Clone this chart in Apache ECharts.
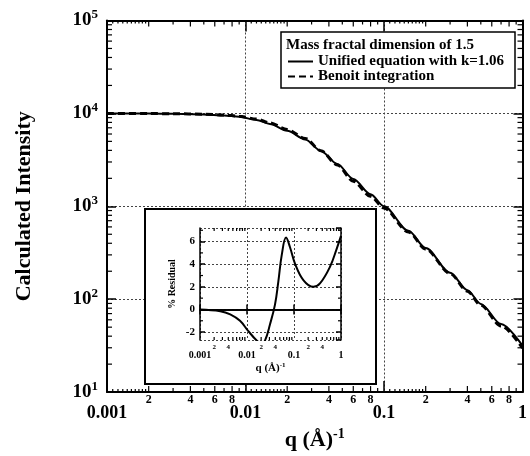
<!DOCTYPE html>
<html>
<head>
<meta charset="utf-8">
<script src="https://cdn.jsdelivr.net/npm/echarts@6/dist/echarts.min.js"></script>
<style>
html, body { margin: 0; padding: 0; background: #fff; }
#main { width: 530px; height: 456px; }
</style>
</head>
<body>
<div id="main"></div>
<script>
// main plot: q (1/A) vs calculated intensity
var qMain = [0.001, 0.002, 0.003, 0.005, 0.007, 0.009, 0.012, 0.015, 0.02, 0.027, 0.035, 0.046, 0.06, 0.08, 0.1, 0.15, 0.2, 0.3, 0.4, 0.5, 0.7, 1.0];
var unified = [10000, 9950, 9900, 9750, 9500, 9200, 8500, 7700, 6500, 5250, 3950, 2850, 1970, 1350, 1000, 545, 355, 193, 125, 89, 54, 31.6];
var benoit = [10000, 9960, 9920, 9800, 9600, 9340, 8690, 7900, 6700, 5370, 3970, 2790, 1860, 1280, 960, 530, 347, 189, 122, 86, 51.6, 29.7];

// inset: % residual
var qResid = [0.001, 0.0027, 0.0044, 0.0071, 0.0106, 0.0161, 0.02, 0.0241, 0.0309, 0.0394, 0.0464, 0.0548, 0.0677, 0.0822, 0.105, 0.158, 0.258, 0.357, 0.583, 0.809, 1.0];
var residual = [0, -0.15, -0.43, -1.0, -1.9, -2.75, -3.0, -2.75, -1.3, 0.43, 2.46, 4.8, 6.35, 5.5, 4.06, 2.6, 2.0, 2.3, 3.77, 5.36, 6.5];

// tick labels
var xMajorLabels = ['0.001', '0.01', '0.1', '1'];
var xMinorLabels = [2, 4, 6, 8];
var insetMinorLabels = [2, 4];
var mantissas = [2, 3, 4, 5, 6, 7, 8, 9];
var fineMantissas = [1.1, 1.2, 1.3, 1.4, 1.5, 1.6, 1.7, 1.8, 1.9];
var residMinor = [-1, 1, 3, 5, 7];

var FONT = '"Liberation Serif", "Times New Roman", serif';

function logTicks(decades, mants) {
  var out = [];
  decades.forEach(function (d) {
    mants.forEach(function (m) { out.push({ v: m * Math.pow(10, d), m: m }); });
  });
  return out;
}
var mainXTicks = logTicks([-3, -2, -1], fineMantissas.concat(mantissas));
var mainYTicks = logTicks([1, 2, 3, 4], mantissas);
var insetXTicks = logTicks([-3, -2, -1], mantissas);
var insetYTicks = residMinor.map(function (v) { return { v: v, m: v }; });

function majorLabel(v) {
  return xMajorLabels[Math.round(Math.log10(v)) + 3];
}

// minor ticks on x (bottom + top), drawn through the axis scale
function xTickSeries(ticks, axisIdx, yRef, lenOf, labels, fontSize, dy, z) {
  return {
    type: 'custom', xAxisIndex: axisIdx, yAxisIndex: axisIdx, silent: true, clip: false, z: z,
    data: ticks.map(function (t) { return [t.v, yRef]; }),
    renderItem: function (params, api) {
      var t = ticks[params.dataIndex];
      var cs = params.coordSys;
      var px = api.coord([t.v, yRef])[0];
      var len = lenOf(t.m);
      var bot = cs.y + cs.height;
      var st = { stroke: '#000', lineWidth: 1.2 };
      var ch = [
        { type: 'line', shape: { x1: px, y1: bot, x2: px, y2: bot - len }, style: st },
        { type: 'line', shape: { x1: px, y1: cs.y, x2: px, y2: cs.y + len }, style: st }
      ];
      if (labels.indexOf(t.m) >= 0) {
        ch.push({ type: 'text', style: { text: String(t.m), x: px, y: bot + dy, font: 'bold ' + fontSize + 'px ' + FONT, textAlign: 'center', textVerticalAlign: 'middle', fill: '#000' } });
      }
      return { type: 'group', children: ch };
    }
  };
}

// minor ticks on y (left + right)
function yTickSeries(ticks, axisIdx, xRef, len, z) {
  return {
    type: 'custom', xAxisIndex: axisIdx, yAxisIndex: axisIdx, silent: true, clip: false, z: z,
    data: ticks.map(function (t) { return [xRef, t.v]; }),
    renderItem: function (params, api) {
      var t = ticks[params.dataIndex];
      var cs = params.coordSys;
      var py = api.coord([xRef, t.v])[1];
      var st = { stroke: '#000', lineWidth: 1.2 };
      return { type: 'group', children: [
        { type: 'line', shape: { x1: cs.x, y1: py, x2: cs.x + len, y2: py }, style: st },
        { type: 'line', shape: { x1: cs.x + cs.width, y1: py, x2: cs.x + cs.width - len, y2: py }, style: st }
      ] };
    }
  };
}

var dotted = { show: true, lineStyle: { color: '#444', width: 1, type: [2, 2] } };
var qName = '{a|q (Å)}{s|-1}';

function logX(grid, pos, big, extra) {
  var o = {
    type: 'log', logBase: 10, min: 0.001, max: 1, gridIndex: grid, position: pos,
    axisLine: { lineStyle: { color: '#000', width: big ? 2 : 1.5 } },
    axisTick: { inside: true, length: big ? 11 : 5, lineStyle: { color: '#000', width: 1.5 } },
    axisLabel: { show: false },
    splitLine: { show: false }
  };
  return Object.assign(o, extra || {});
}

var chart = echarts.init(document.getElementById('main'));
chart.setOption({
  backgroundColor: '#fff',
  animation: false,
  textStyle: { fontFamily: FONT },
  title: {
    text: 'Mass fractal dimension of 1.5', left: 286, top: 38, padding: 0,
    textStyle: { fontFamily: FONT, fontWeight: 'bold', fontSize: 15, color: '#000' }
  },
  legend: {
    data: ['Unified equation with k=1.06', 'Benoit integration'],
    orient: 'vertical', left: 287, top: 54, padding: 0, itemGap: 0,
    itemWidth: 25, itemHeight: 14,
    itemStyle: { opacity: 0 },
    textStyle: { fontFamily: FONT, fontWeight: 'bold', fontSize: 15, color: '#000' }
  },
  graphic: [
    { type: 'rect', z: 3, shape: { x: 281, y: 32, width: 234, height: 56 }, style: { fill: '#fff', stroke: '#000', lineWidth: 1.5 } },
    { type: 'rect', z: 3, shape: { x: 145, y: 209, width: 231, height: 175 }, style: { fill: '#fff', stroke: '#000', lineWidth: 2 } }
  ],
  grid: [
    { left: 107, right: 1, top: 20.5, bottom: 59 },
    { left: 200, top: 228, width: 141, height: 112 }
  ],
  xAxis: [
    logX(0, 'bottom', true, {
      axisLabel: { show: true, margin: 12, formatter: majorLabel, fontFamily: FONT, fontWeight: 'bold', fontSize: 18, color: '#000' },
      splitLine: dotted,
      name: qName, nameLocation: 'middle', nameGap: 31,
      nameTextStyle: { rich: {
        a: { fontFamily: FONT, fontWeight: 'bold', fontSize: 22, color: '#000', lineHeight: 26 },
        s: { fontFamily: FONT, fontWeight: 'bold', fontSize: 14, color: '#000', verticalAlign: 'top', lineHeight: 16 }
      } }
    }),
    logX(0, 'top', true),
    logX(1, 'bottom', false, {
      z: 5,
      axisLabel: { show: true, margin: 10, formatter: majorLabel, fontFamily: FONT, fontWeight: 'bold', fontSize: 10, color: '#000' },
      splitLine: dotted,
      name: qName, nameLocation: 'middle', nameGap: 22,
      nameTextStyle: { rich: {
        a: { fontFamily: FONT, fontWeight: 'bold', fontSize: 11, color: '#000', lineHeight: 13 },
        s: { fontFamily: FONT, fontWeight: 'bold', fontSize: 7, color: '#000', verticalAlign: 'top', lineHeight: 8 }
      } }
    }),
    logX(1, 'top', false, { z: 5 })
  ],
  yAxis: [
    {
      type: 'log', logBase: 10, min: 10, max: 100000, gridIndex: 0, position: 'left',
      axisLine: { lineStyle: { color: '#000', width: 2 } },
      axisTick: { inside: true, length: 9, lineStyle: { color: '#000', width: 1.5 } },
      axisLabel: {
        margin: 9,
        formatter: function (v) { return '{b|10}{s|' + Math.round(Math.log10(v)) + '}'; },
        rich: {
          b: { fontFamily: FONT, fontWeight: 'bold', fontSize: 19, color: '#000', lineHeight: 24 },
          s: { fontFamily: FONT, fontWeight: 'bold', fontSize: 13, color: '#000', verticalAlign: 'top', lineHeight: 14 }
        }
      },
      splitLine: dotted,
      name: 'Calculated Intensity', nameLocation: 'middle', nameGap: 72, nameRotate: 90,
      nameTextStyle: { fontFamily: FONT, fontWeight: 'bold', fontSize: 22, color: '#000' }
    },
    {
      type: 'log', logBase: 10, min: 10, max: 100000, gridIndex: 0, position: 'right',
      axisLine: { lineStyle: { color: '#000', width: 2 } },
      axisTick: { inside: true, length: 9, lineStyle: { color: '#000', width: 1.5 } },
      axisLabel: { show: false }, splitLine: { show: false }
    },
    {
      type: 'value', min: -2.7, max: 7.2, splitNumber: 5, gridIndex: 1, position: 'left', z: 5,
      axisLine: { lineStyle: { color: '#000', width: 1.5 } },
      axisTick: { inside: true, length: 5, lineStyle: { color: '#000', width: 1.5 } },
      axisLabel: { margin: 5, showMinLabel: false, showMaxLabel: false, fontFamily: FONT, fontWeight: 'bold', fontSize: 11, color: '#000' },
      splitLine: dotted,
      name: '% Residual', nameLocation: 'middle', nameGap: 23, nameRotate: 90,
      nameTextStyle: { fontFamily: FONT, fontWeight: 'bold', fontSize: 10, color: '#000' }
    },
    {
      type: 'value', min: -2.7, max: 7.2, splitNumber: 5, gridIndex: 1, position: 'right', z: 5,
      axisLine: { lineStyle: { color: '#000', width: 1.5 } },
      axisTick: { inside: true, length: 5, lineStyle: { color: '#000', width: 1.5 } },
      axisLabel: { show: false }, splitLine: { show: false }
    }
  ],
  series: [
    {
      name: 'Benoit integration', type: 'line', xAxisIndex: 0, yAxisIndex: 0,
      data: qMain.map(function (q, i) { return [q, benoit[i]]; }),
      symbol: 'none', smooth: 0.3, smoothMonotone: 'x',
      lineStyle: { color: '#000', width: 3, type: [7, 4] }, itemStyle: { color: '#000' }
    },
    {
      name: 'Unified equation with k=1.06', type: 'line', xAxisIndex: 0, yAxisIndex: 0,
      data: qMain.map(function (q, i) { return [q, unified[i]]; }),
      symbol: 'none', smooth: 0.3, smoothMonotone: 'x',
      lineStyle: { color: '#000', width: 2 }, itemStyle: { color: '#000' }
    },
    {
      name: 'residual', type: 'line', xAxisIndex: 2, yAxisIndex: 2, z: 6,
      data: qResid.map(function (q, i) { return [q, residual[i]]; }),
      symbol: 'none', smooth: 0.4,
      lineStyle: { color: '#000', width: 2 },
      markLine: {
        silent: true, symbol: ['none', 'none'], label: { show: false },
        lineStyle: { color: '#000', width: 1.5, type: 'solid' },
        data: [{ yAxis: 0 }]
      }
    },
    xTickSeries(mainXTicks, 0, 10, function (m) { return m < 2 ? 3 : (m % 2 === 0 ? 6 : 4); }, xMinorLabels, 12, 8, 2),
    yTickSeries(mainYTicks, 0, 0.001, 5, 2),
    xTickSeries(insetXTicks, 2, 0, function (m) { return 3; }, insetMinorLabels, 7, 7, 6),
    yTickSeries(insetYTicks, 2, 0.001, 3, 6)
  ]
});
</script>
</body>
</html>
